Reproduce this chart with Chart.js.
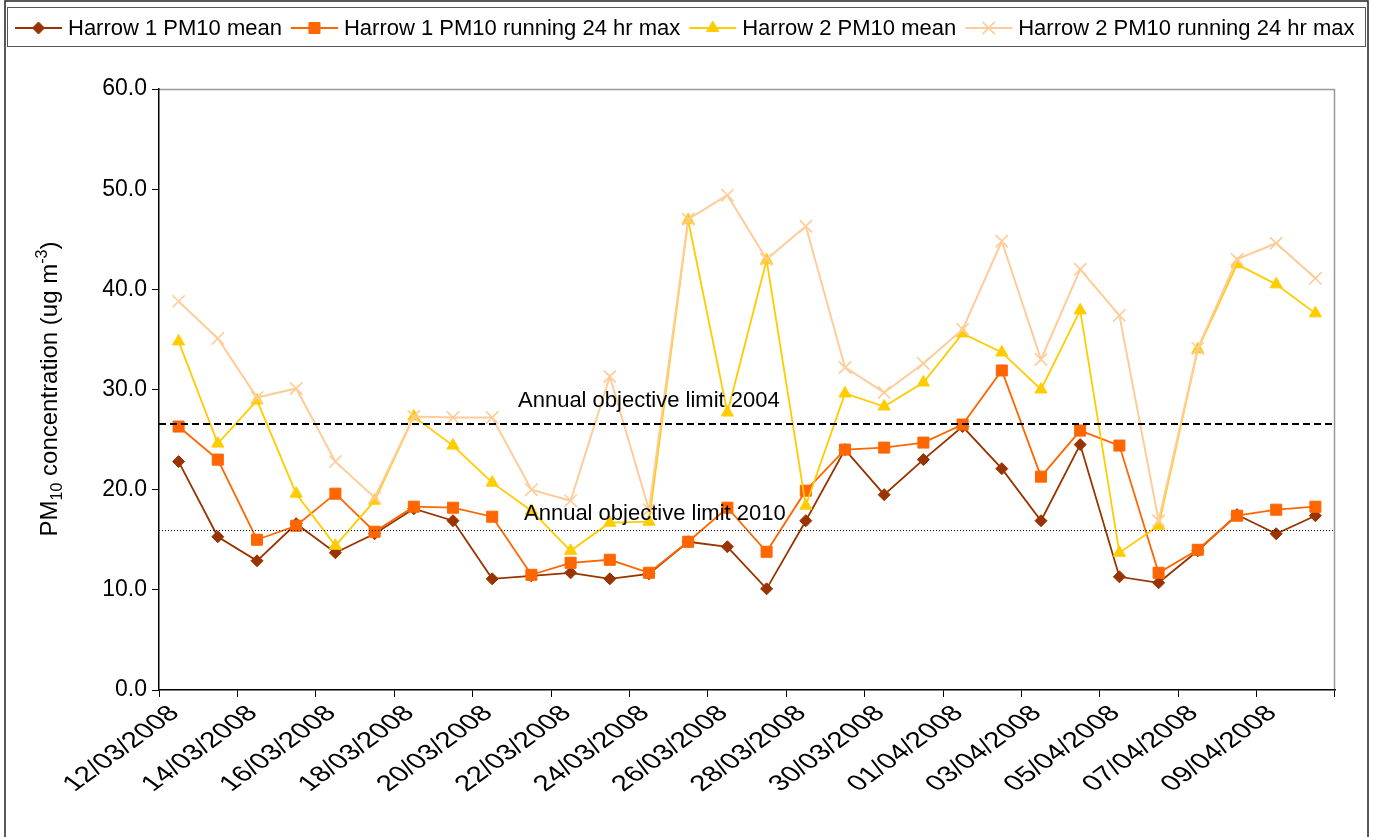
<!DOCTYPE html>
<html><head><meta charset="utf-8">
<script src="https://cdn.jsdelivr.net/npm/chart.js@4.4.0/dist/chart.umd.min.js"></script>
<style>html,body{margin:0;padding:0;background:#fff;}canvas{display:block;}</style>
</head><body>
<canvas id="c" width="1380" height="837"></canvas>
<script>
// ---- data ----
const dates = ['12/03/2008','13/03/2008','14/03/2008','15/03/2008','16/03/2008','17/03/2008','18/03/2008','19/03/2008','20/03/2008','21/03/2008',
  '22/03/2008','23/03/2008','24/03/2008','25/03/2008','26/03/2008','27/03/2008','28/03/2008','29/03/2008','30/03/2008','31/03/2008',
  '01/04/2008','02/04/2008','03/04/2008','04/04/2008','05/04/2008','06/04/2008','07/04/2008','08/04/2008','09/04/2008','10/04/2008'];
const harrow1Mean = [22.8,15.3,12.9,16.6,13.7,15.6,18.1,16.9,11.1,11.4,11.7,11.1,11.6,14.8,14.3,10.1,16.9,24.0,19.5,23.0,26.3,22.1,16.9,24.5,11.3,10.7,13.9,17.5,15.6,17.4];
const harrow1Max  = [26.3,23.0,15.0,16.4,19.6,15.8,18.3,18.2,17.3,11.5,12.7,13.0,11.7,14.8,18.2,13.8,19.9,24.0,24.2,24.7,26.5,31.9,21.3,25.9,24.4,11.7,14.0,17.4,18.0,18.3];
const harrow2Mean = [34.8,24.6,28.9,19.6,14.4,18.9,27.3,24.4,20.7,17.9,13.9,16.7,16.8,46.9,27.7,42.9,18.4,29.6,28.3,30.7,35.6,33.7,30.0,37.9,13.7,16.4,34.0,42.5,40.5,37.6];
const harrow2Max  = [38.8,35.1,29.2,30.1,22.8,19.2,27.3,27.2,27.2,20.0,18.9,31.3,18.0,47.0,49.4,43.0,46.3,32.2,29.7,32.6,36.0,44.8,33.0,42.0,37.4,16.9,34.1,43.0,44.6,41.1];
const seriesNames = ['Harrow 1 PM10 mean','Harrow 1 PM10 running 24 hr max','Harrow 2 PM10 mean','Harrow 2 PM10 running 24 hr max'];
const limitValues = [26.6, 16.0];
const limitLabels = ['Annual objective limit 2004','Annual objective limit 2010'];
const yMin = 0, yMax = 60, yStep = 10;

const FONT = '"Liberation Sans", Arial, sans-serif';
const colors = ['#993300','#FF6600','#FFCC00','#FFCC99'];
const styles = ['rectRot','rect','triangle','crossRot'];
const radii = [6,7.8,7,8.7];

function ds(i, data){
  return {label: seriesNames[i], data, borderColor: colors[i], backgroundColor: colors[i],
    pointStyle: styles[i], pointRadius: radii[i], pointBackgroundColor: colors[i], pointBorderColor: colors[i],
    pointBorderWidth: i===3?1.6:1, borderWidth: i===3?2:1.8, tension: 0, order: 4-i};
}

function drawMarker(ctx, style, x, y, r, color){
  ctx.save(); ctx.fillStyle=color; ctx.strokeStyle=color; ctx.lineWidth=1;
  ctx.beginPath();
  if(style==='rectRot'){ctx.moveTo(x,y-r);ctx.lineTo(x+r,y);ctx.lineTo(x,y+r);ctx.lineTo(x-r,y);ctx.closePath();ctx.fill();ctx.stroke();}
  else if(style==='rect'){const s=r*Math.SQRT1_2;ctx.rect(x-s,y-s,2*s,2*s);ctx.fill();ctx.stroke();}
  else if(style==='triangle'){const a=2*Math.PI/3;ctx.moveTo(x,y-r);ctx.lineTo(x+Math.sin(a)*r,y-Math.cos(a)*r);ctx.lineTo(x+Math.sin(2*a)*r,y-Math.cos(2*a)*r);ctx.closePath();ctx.fill();ctx.stroke();}
  else {const s=r*Math.SQRT1_2;ctx.lineWidth=1.6;ctx.moveTo(x-s,y-s);ctx.lineTo(x+s,y+s);ctx.moveTo(x+s,y-s);ctx.lineTo(x-s,y+s);ctx.stroke();}
  ctx.restore();
}

const decor = {
  id:'decor',
  beforeDraw(chart){
    const {ctx, chartArea:a} = chart;
    ctx.save();
    ctx.fillStyle='#fff'; ctx.fillRect(0,0,chart.width,chart.height);
    ctx.strokeStyle='#999'; ctx.lineWidth=1.5;
    ctx.beginPath(); ctx.moveTo(a.left,a.top+0.5); ctx.lineTo(a.right-0.5,a.top+0.5); ctx.lineTo(a.right-0.5,a.bottom); ctx.stroke();
    ctx.restore();
  },
  afterDatasetsDraw(chart){
    const {ctx, chartArea:a, scales:{y}} = chart;
    ctx.save();
    const y1 = Math.round(y.getPixelForValue(limitValues[0]));
    ctx.strokeStyle='#000'; ctx.lineWidth=2; ctx.setLineDash([7,4]);
    ctx.beginPath(); ctx.moveTo(a.left,y1); ctx.lineTo(a.right,y1); ctx.stroke();
    const y2 = Math.round(y.getPixelForValue(limitValues[1]))+0.5;
    ctx.lineWidth=1; ctx.setLineDash([1,2]);
    ctx.beginPath(); ctx.moveTo(a.left,y2); ctx.lineTo(a.right,y2); ctx.stroke();
    ctx.setLineDash([]);
    ctx.fillStyle='#000'; ctx.font='22px '+FONT; ctx.textBaseline='alphabetic'; ctx.textAlign='left';
    ctx.fillText(limitLabels[0], 518, y1-17);
    ctx.fillText(limitLabels[1], 524, y2-11);
    ctx.restore();
  },
  afterDraw(chart){
    const {ctx} = chart;
    ctx.save();
    // x tick labels (every other category), slanted like the original
    const xs = chart.scales.x;
    ctx.font='22px '+FONT; ctx.fillStyle='#000'; ctx.textAlign='right'; ctx.textBaseline='middle';
    xs.ticks.forEach((t,i)=>{
      if(i%2!==0) return;
      const px = xs.getPixelForTick(i);
      ctx.save();
      ctx.translate(px-4, xs.top+20);
      ctx.scale(1.36,1);
      ctx.rotate(-Math.PI/4);
      ctx.fillText(xs.getLabelForValue(t.value),0,0);
      ctx.restore();
    });
    // outer frame
    ctx.strokeStyle='#222'; ctx.lineWidth=1.5;
    ctx.strokeRect(5,1,1363,900);
    // legend box
    ctx.strokeStyle='#555'; ctx.lineWidth=1;
    ctx.strokeRect(7.5,7.5,1358,39);
    // legend items
    ctx.font='22px '+FONT; ctx.textBaseline='middle'; ctx.textAlign='left';
    let x = 15; const ly = 28;
    chart.data.datasets.forEach((d,i)=>{
      ctx.strokeStyle=colors[i]; ctx.lineWidth=i===3?2:1.8;
      ctx.beginPath(); ctx.moveTo(x,ly); ctx.lineTo(x+47,ly); ctx.stroke();
      drawMarker(ctx, styles[i], x+23.5, ly, radii[i], colors[i]);
      ctx.fillStyle='#000';
      ctx.fillText(d.label, x+53, ly+1);
      x += 53 + ctx.measureText(d.label).width + 9;
    });
    // y axis title with sub/superscript
    ctx.translate(57, 389); ctx.rotate(-Math.PI/2);
    const big='24px '+FONT, small='16px '+FONT;
    const parts=[['PM',big,0],['10',small,5],[' concentration (ug m',big,0],['-3',small,-10],[')',big,0]];
    let w=0; parts.forEach(p=>{ctx.font=p[1]; w+=ctx.measureText(p[0]).width;});
    let px=-w/2; ctx.textBaseline='alphabetic'; ctx.fillStyle='#000';
    parts.forEach(p=>{ctx.font=p[1]; ctx.fillText(p[0],px,p[2]); px+=ctx.measureText(p[0]).width;});
    ctx.restore();
  }
};

new Chart(document.getElementById('c'), {
  type:'line',
  data:{labels:dates, datasets:[ds(0,harrow1Mean),ds(1,harrow1Max),ds(2,harrow2Mean),ds(3,harrow2Max)]},
  options:{
    responsive:false, animation:false, devicePixelRatio:1,
    layout:{padding:{top:89,right:45,left:0,bottom:0}},
    plugins:{legend:{display:false}, tooltip:{enabled:false}, title:{display:false}},
    scales:{
      x:{type:'category', offset:true,
        grid:{offset:true, drawOnChartArea:false, tickLength:7, tickWidth:1,
          tickColor:(c)=> (c.index===undefined || c.index%2===0) ? '#000' : 'rgba(0,0,0,0)'},
        border:{display:true,color:'#000',width:1.5},
        ticks:{display:false, autoSkip:false},
        afterFit:(s)=>{s.height=147;}
      },
      y:{min:yMin,max:yMax,
        grid:{drawOnChartArea:false,tickLength:7,tickColor:'#000'},
        border:{display:true,color:'#000',width:1.5},
        ticks:{stepSize:yStep,padding:5,color:'#000',font:{family:FONT,size:23},callback:(v)=>Number(v).toFixed(1)},
        afterFit:(s)=>{s.width=159;}
      }
    }
  },
  plugins:[decor]
});
</script>
</body></html>
